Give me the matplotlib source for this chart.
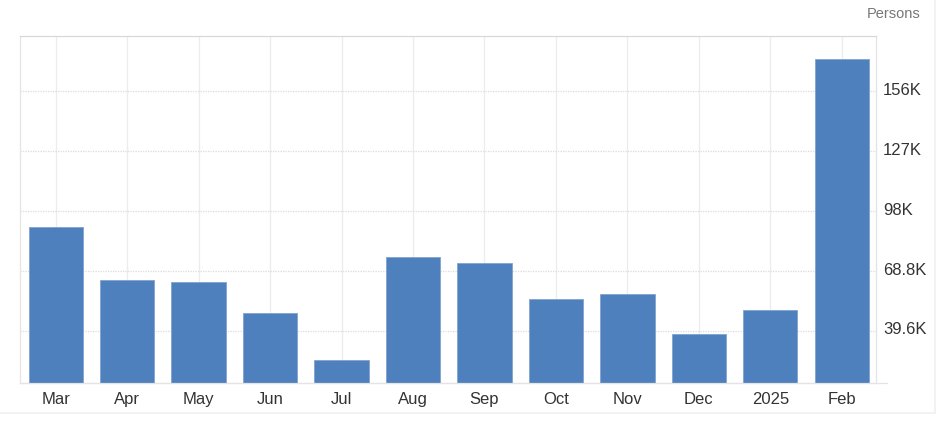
import matplotlib.pyplot as plt
import matplotlib.transforms as mtransforms
from matplotlib.lines import Line2D

## monthly bar chart, values in persons

months = ['Mar', 'Apr', 'May', 'Jun', 'Jul', 'Aug', 'Sep', 'Oct', 'Nov', 'Dec', '2025', 'Feb']
persons = [90100, 64400, 63300, 48200, 25500, 75600, 72500, 55200, 57500, 38000, 49700, 172000]
y_ticks = [39600, 68800, 98000, 127200, 156400]
y_tick_labels = ['39.6K', '68.8K', '98K', '127K', '156K']

plt.rcParams['font.family'] = ['Liberation Sans', 'DejaVu Sans']

fig = plt.figure(figsize=(9.44, 4.21), dpi=100)
ax = fig.add_axes([0.0212, 0.0896, 0.9068, 0.8249])

x = range(len(months))
ax.bar(x, persons, width=0.76, color='#4e80bd', edgecolor='#7fa3d1', linewidth=0.6, zorder=3)

ax.set_xlim(-0.5, 11.48)
ax.set_ylim(14150, 183200)

# ticks
ax.set_xticks(list(x))
ax.set_xticklabels(months)
ax.set_yticks(y_ticks)
ax.set_yticklabels(y_tick_labels)
ax.yaxis.tick_right()
ax.tick_params(axis='x', length=0, pad=6, labelsize=12, labelcolor='#333333')
ax.tick_params(axis='y', length=0, pad=5, labelsize=12, labelcolor='#333333')

# right labels sit a little above their grid line
shift = mtransforms.ScaledTranslation(0, 2.5 / 100, fig.dpi_scale_trans)
for lbl in ax.get_yticklabels():
    lbl.set_transform(lbl.get_transform() + shift)

# grid
ax.grid(axis='y', color='#dcdcdc', linestyle=(0, (1, 1)), linewidth=0.9, zorder=0)
ax.grid(axis='x', color='#ececec', linestyle='-', linewidth=0.9, zorder=0)

for side in ['top', 'left', 'right', 'bottom']:
    ax.spines[side].set_color('#e4e4e4')
    ax.spines[side].set_linewidth(0.9)
ax.spines['top'].set_linestyle((0, (1, 1)))
ax.spines['top'].set_color('#d8d8d8')

# bottom axis line runs a bit past the plot area
fig.add_artist(Line2D([0.0212, 0.9396], [0.0896, 0.0896], color='#e4e4e4', linewidth=0.9))
# faint outer frame
fig.add_artist(Line2D([0.0, 0.990], [0.019, 0.019], color='#f0f0f0', linewidth=1.2))
fig.add_artist(Line2D([0.990, 0.990], [0.019, 1.0], color='#f0f0f0', linewidth=1.2))

fig.text(0.975, 0.967, 'Persons', ha='right', va='center', fontsize=10.5, color='#777777')

fig.savefig('out.png', dpi=100)
